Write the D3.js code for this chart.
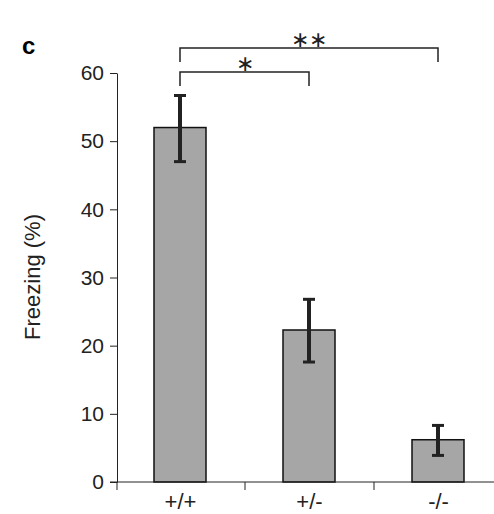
<!DOCTYPE html>
<html><head><meta charset="utf-8">
<script src="https://cdn.jsdelivr.net/npm/d3@7"></script>
<style>body{margin:0;background:#fff}</style>
</head><body>
<script>
const categories = ["+/+", "+/-", "-/-"];
const means = [52, 22.3, 6.2];
const errLow = [47, 17.6, 3.9];
const errHigh = [56.7, 26.8, 8.3];
const yTicks = [0, 10, 20, 30, 40, 50, 60];
const sig = [{from: 0, to: 2, label: "∗∗", level: 0}, {from: 0, to: 1, label: "∗", level: 1}];

const width = 494, height = 514;
const svg = d3.select("body").append("svg").attr("width", width).attr("height", height)
  .style("font-family", "Arial, Liberation Sans, sans-serif");

const x = d3.scalePoint().domain(categories).range([180, 438]);
const y = d3.scaleLinear().domain([0, 60]).range([482, 73]);

// bars
svg.selectAll("rect.bar").data(means).enter().append("rect")
  .attr("x", (d, i) => x(categories[i]) - 26)
  .attr("width", 52)
  .attr("y", d => y(d))
  .attr("height", d => y(0) - y(d))
  .attr("fill", "#a6a6a6").attr("stroke", "#111").attr("stroke-width", 1.5);

// error bars
const g = svg.append("g").attr("stroke", "#222").attr("stroke-width", 4);
categories.forEach((c, i) => {
  const cx = x(c);
  g.append("line").attr("x1", cx).attr("x2", cx).attr("y1", y(errLow[i])).attr("y2", y(errHigh[i]));
  [errLow[i], errHigh[i]].forEach(v => g.append("line")
    .attr("x1", cx - 6).attr("x2", cx + 6).attr("y1", y(v)).attr("y2", y(v)).attr("stroke-width", 3));
});

// axes
const ya = svg.append("g").attr("transform", "translate(117,0)")
  .call(d3.axisLeft(y).tickValues(yTicks).tickSize(7).tickSizeOuter(0).tickPadding(6));
ya.attr("font-size", null);
ya.selectAll("text").style("font-size", "21px").attr("fill", "#222");
ya.selectAll("line,path").attr("stroke", "#222");
svg.append("line").attr("x1", 110).attr("x2", 497).attr("y1", 482).attr("y2", 482).attr("stroke", "#222");
const xa = svg.append("g").attr("transform", "translate(0,482)")
  .call(d3.axisBottom(x).tickSize(6).tickSizeOuter(0));
xa.attr("font-size", null);
xa.select(".domain").remove();
xa.selectAll("text").style("font-size", "22px").attr("fill", "#222").attr("dy", "0.8em");
xa.selectAll(".tick line").remove();
[117, 245, 374, 497].forEach(v => svg.append("line").attr("x1", v).attr("x2", v).attr("y1", 482).attr("y2", 490).attr("stroke", "#222"));

// significance brackets
sig.forEach(s => {
  const x1 = x(categories[s.from]), x2 = x(categories[s.to]);
  const top = 48 + s.level * 24;
  svg.append("path").attr("d", `M${x1},${top + 14}V${top}H${x2}V${top + 14}`)
    .attr("fill", "none").attr("stroke", "#222").attr("stroke-width", 1.5);
  svg.append("text").attr("x", (x1 + x2) / 2).attr("y", top - 1).attr("text-anchor", "middle")
    .style("font-size", "22px").attr("fill", "#222").text(s.label);
});

svg.append("text").attr("x", 22).attr("y", 54).style("font-size", "24px").style("font-weight", "bold").text("c");
svg.append("text").attr("transform", "translate(40,277) rotate(-90)").attr("text-anchor", "middle")
  .style("font-size", "22px").attr("fill", "#222").text("Freezing (%)");
</script>
</body></html>
